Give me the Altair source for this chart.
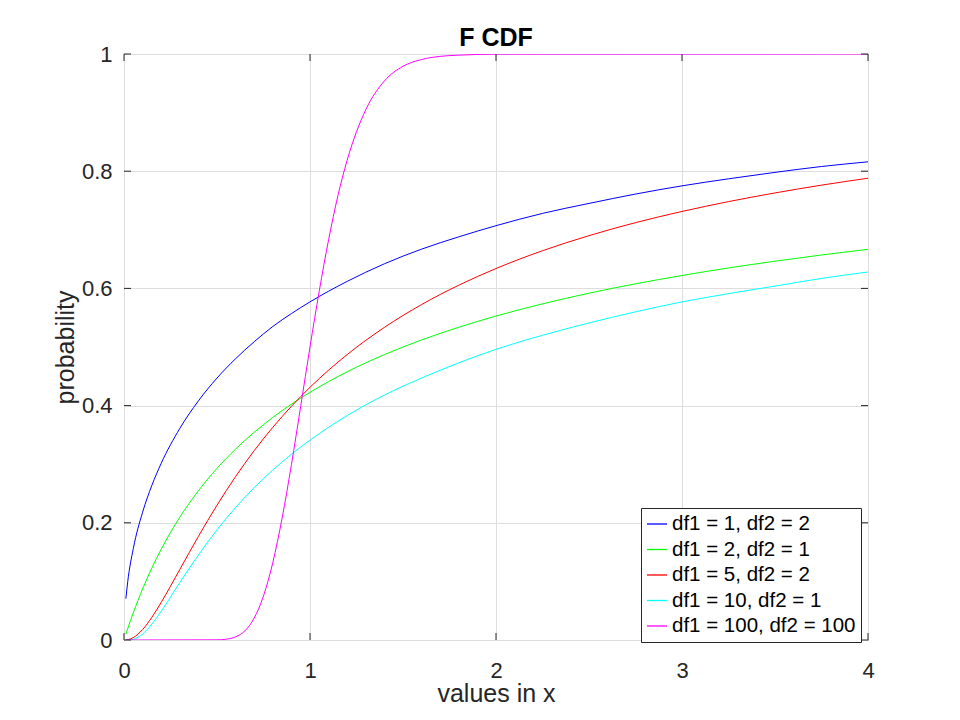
import altair as alt
import pandas as pd

# ---- data ----
labels = ["df1 = 1, df2 = 2", "df1 = 2, df2 = 1", "df1 = 5, df2 = 2",
          "df1 = 10, df2 = 1", "df1 = 100, df2 = 100"]
colors = ["#0000ff", "#00ff00", "#ff0000", "#00ffff", "#ff00ff"]

x_common = [0.01, 0.02, 0.05, 0.1, 0.15, 0.2, 0.3, 0.4, 0.5, 0.6, 0.7, 0.8, 0.9, 1.0,
            1.2, 1.4, 1.6, 1.8, 2.0, 2.25, 2.5, 2.75, 3.0, 3.25, 3.5, 3.75, 4.0]
y_blue = [0.0705, 0.0995, 0.156, 0.218, 0.264, 0.3015, 0.361, 0.408, 0.447, 0.480, 0.509,
          0.535, 0.557, 0.577, 0.612, 0.642, 0.667, 0.688, 0.707, 0.728, 0.745, 0.761,
          0.775, 0.787, 0.798, 0.808, 0.816]
y_green = [0.0099, 0.0194, 0.0465, 0.0871, 0.1229, 0.1548, 0.2094, 0.2546, 0.2929, 0.3258,
           0.3545, 0.3798, 0.4024, 0.4226, 0.4577, 0.4870, 0.5120, 0.5337, 0.5528, 0.5736,
           0.5918, 0.6078, 0.6220, 0.6349, 0.6464, 0.6570, 0.6667]
y_red = [0.0001, 0.0005, 0.0041, 0.0179, 0.0388, 0.0642, 0.1203, 0.1768, 0.2300, 0.2789,
         0.3231, 0.3629, 0.3988, 0.4312, 0.4871, 0.5335, 0.5724, 0.6055, 0.6339, 0.6643,
         0.6900, 0.7122, 0.7313, 0.7481, 0.7629, 0.7762, 0.7880]
y_cyan = [0.0, 0.0, 0.0012, 0.0102, 0.0272, 0.049, 0.098, 0.145, 0.188, 0.226, 0.260,
          0.290, 0.317, 0.341, 0.383, 0.418, 0.447, 0.473, 0.496, 0.520, 0.541, 0.560,
          0.577, 0.591, 0.604, 0.617, 0.628]
x_magenta = [0.01, 0.5, 0.55, 0.6, 0.65, 0.7, 0.75, 0.8, 0.85, 0.9, 0.95, 1.0, 1.05, 1.1,
             1.15, 1.2, 1.3, 1.4, 1.5, 1.6, 1.7, 1.8, 2.0, 4.0]
y_magenta = [0.0, 0.0003, 0.0014, 0.0054, 0.0156, 0.0375, 0.0752, 0.132, 0.208, 0.299,
             0.399, 0.5, 0.596, 0.683, 0.758, 0.819, 0.905, 0.954, 0.979, 0.9906, 0.996,
             0.998, 0.9997, 1.0]

x_ticks = [0, 1, 2, 3, 4]
y_ticks = [0, 0.2, 0.4, 0.6, 0.8, 1]

rows = []
series = [(x_common, y_blue), (x_common, y_green), (x_common, y_red),
          (x_common, y_cyan), (x_magenta, y_magenta)]
for i, (xs, ys) in enumerate(series):
    for k, (xv, yv) in enumerate(zip(xs, ys)):
        rows.append({"x": xv, "y": yv, "series": labels[i], "idx": k})
df = pd.DataFrame(rows)

W, H = 744, 586
FONT = "Liberation Sans"
AX = "#262626"

xscale = alt.Scale(domain=[0, 4], nice=False, zero=False)
yscale = alt.Scale(domain=[0, 1], nice=False, zero=False)

xaxis = alt.Axis(values=x_ticks, format="d", title="values in x",
                 titleY=61, titleX=W / 2, titleBaseline="alphabetic",
                 labelPadding=20, labelFlush=False, labelOverlap=False,
                 grid=True, ticks=False, domain=False)
yaxis = alt.Axis(values=y_ticks, format="~g", title="probability",
                 titleX=-51, titleY=H / 2, titleBaseline="alphabetic",
                 titleAngle=270, labelPadding=12, labelFlush=False, labelOverlap=False,
                 grid=True, ticks=False, domain=False)

lines = alt.Chart(df).mark_line(strokeWidth=1, interpolate="monotone", clip=True).encode(
    x=alt.X("x:Q", scale=xscale, axis=xaxis, title="values in x"),
    y=alt.Y("y:Q", scale=yscale, axis=yaxis, title="probability"),
    color=alt.Color("series:N", sort=labels,
                    scale=alt.Scale(domain=labels, range=colors),
                    legend=alt.Legend(title=None, orient="none", legendX=517, legendY=454,
                                      symbolType="stroke", symbolSize=400,
                                      symbolStrokeWidth=1.3, labelFontSize=20.5,
                                      labelFont=FONT, labelColor="#000000",
                                      labelOffset=4, rowPadding=3.5, padding=5,
                                      strokeColor=AX, fillColor="#ffffff",
                                      cornerRadius=0, labelLimit=400)),
    order=alt.Order("idx:Q"),
)

xt = pd.DataFrame({"x": x_ticks})
yt = pd.DataFrame({"y": y_ticks})

xb = alt.Chart(xt).mark_rule(color=AX, strokeWidth=1).encode(
    x=alt.X("x:Q", scale=xscale, axis=xaxis, title="values in x"),
    y=alt.value(H), y2=alt.value(H - 7))
xtp = alt.Chart(xt).mark_rule(color=AX, strokeWidth=1).encode(
    x=alt.X("x:Q", scale=xscale, axis=xaxis, title="values in x"),
    y=alt.value(0), y2=alt.value(7))
yl = alt.Chart(yt).mark_rule(color=AX, strokeWidth=1).encode(
    y=alt.Y("y:Q", scale=yscale, axis=yaxis, title="probability"),
    x=alt.value(0), x2=alt.value(7))
yr = alt.Chart(yt).mark_rule(color=AX, strokeWidth=1).encode(
    y=alt.Y("y:Q", scale=yscale, axis=yaxis, title="probability"),
    x=alt.value(W - 7), x2=alt.value(W))

chart = alt.layer(lines, xb, xtp, yl, yr).properties(
    width=W, height=H,
    background="#ffffff",
    title=alt.TitleParams("F CDF", font=FONT, fontSize=25, fontWeight="bold",
                          color="#000000", baseline="alphabetic", offset=9,
                          anchor="middle", frame="group", dy=37),
    autosize=alt.AutoSizeParams(type="none"),
    padding={"left": 116, "top": 46, "right": 84, "bottom": 78},
).configure_view(
    stroke=AX, strokeWidth=1
).configure_axis(
    labelFont=FONT, labelFontSize=22, labelColor=AX,
    titleFont=FONT, titleFontSize=25, titleColor=AX, titleFontWeight="normal",
    gridColor="#dedede", gridWidth=1, gridOpacity=1,
)

chart.save("out.html", embed_options={"renderer": "svg", "actions": False})
